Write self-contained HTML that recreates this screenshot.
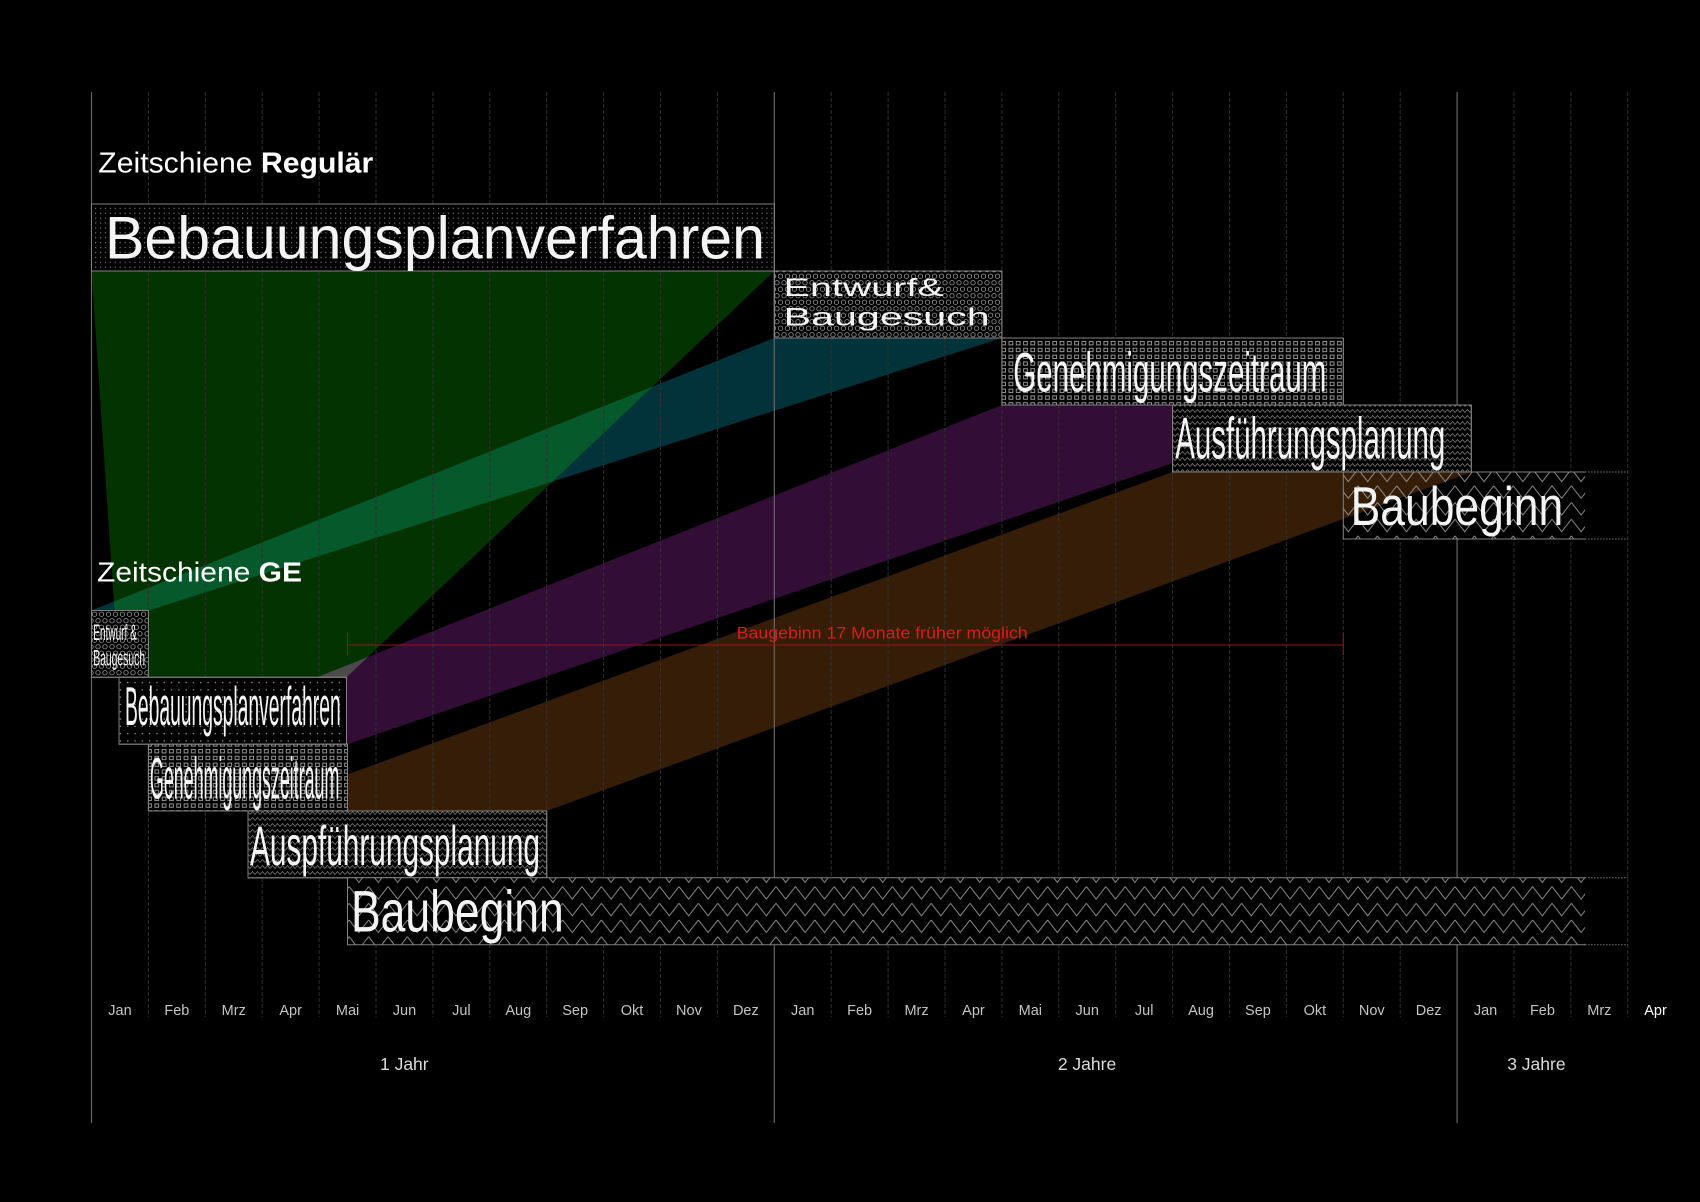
<!DOCTYPE html>
<html><head><meta charset="utf-8"><style>
html,body{margin:0;padding:0;background:#000;}
svg{display:block}
</style></head><body>
<svg width="1700" height="1202" viewBox="0 0 1700 1202" xmlns="http://www.w3.org/2000/svg" font-family="'Liberation Sans', Arial, sans-serif">
<defs>
  <pattern id="pDots" width="4.9" height="4.9" patternUnits="userSpaceOnUse"><rect x="2" y="2" width="1.1" height="1.1" fill="#8c8c8c"/></pattern>
  <pattern id="pDots2" width="7.3" height="7.3" patternUnits="userSpaceOnUse"><rect x="3" y="3" width="1.3" height="1.3" fill="#9a9a9a"/></pattern>
  <pattern id="pCirc" width="14" height="13" patternUnits="userSpaceOnUse">
    <g fill="none" stroke="#9a9a9a" stroke-width="0.8">
      <circle cx="3.5" cy="3.2" r="2.2"/><circle cx="10.5" cy="3.2" r="2.2"/>
      <circle cx="7" cy="9.7" r="2.2"/><circle cx="0" cy="9.7" r="2.2"/><circle cx="14" cy="9.7" r="2.2"/>
    </g>
  </pattern>
  <pattern id="pSq" width="7.3" height="6.8" patternUnits="userSpaceOnUse"><rect x="1.6" y="1.5" width="3.8" height="3.4" fill="none" stroke="#a0a0a0" stroke-width="0.9"/></pattern>
  <pattern id="pZz" width="5" height="6" patternUnits="userSpaceOnUse"><polyline points="0,4.5 2.5,1.5 5,4.5" fill="none" stroke="#8a8a8a" stroke-width="0.7"/></pattern>
  <pattern id="pZZ" width="19.4" height="16.7" patternUnits="userSpaceOnUse"><polyline points="0,1.5 9.7,14 19.4,1.5" fill="none" stroke="#9a9a9a" stroke-width="0.9"/></pattern>
  <clipPath id="cGreen"><polygon points="91.5,271 774.3,271 346.5,677.3 119,677.3"/></clipPath>
  <clipPath id="cBB"><rect x="1343.3" y="472" width="241.8" height="67"/></clipPath>
</defs>

<rect width="1700" height="1202" fill="#000"/>

<!-- connecting bands -->
<polygon points="91.5,271 774.3,271 346.5,677.3 119,677.3" fill="#033300"/>
<polygon points="774.3,338 1001.9,338 148.4,610.5 91.5,610.5" fill="#03333a"/>
<polygon points="774.3,338 1001.9,338 148.4,610.5 91.5,610.5" fill="#05592a" clip-path="url(#cGreen)"/>
<polygon points="1001.9,405 1343.3,405 347.5,744.2 148.4,744.2" fill="#320d36"/>
<polygon points="1001.9,405 1343.3,405 347.5,744.2 148.4,744.2" fill="#4a4a4a" clip-path="url(#cGreen)"/>
<polygon points="1172.6,472 1471.3,472 546.7,811 248,811" fill="#361d07"/>

<!-- month gridlines (dashed) -->
<g stroke="#303030" stroke-width="1" stroke-dasharray="4 2">
  <line x1="148.4" y1="92" x2="148.4" y2="1017"/>
  <line x1="205.3" y1="92" x2="205.3" y2="1017"/>
  <line x1="262.2" y1="92" x2="262.2" y2="1017"/>
  <line x1="319.1" y1="92" x2="319.1" y2="1017"/>
  <line x1="376.0" y1="92" x2="376.0" y2="1017"/>
  <line x1="432.9" y1="92" x2="432.9" y2="1017"/>
  <line x1="489.8" y1="92" x2="489.8" y2="1017"/>
  <line x1="546.7" y1="92" x2="546.7" y2="1017"/>
  <line x1="603.6" y1="92" x2="603.6" y2="1017"/>
  <line x1="660.5" y1="92" x2="660.5" y2="1017"/>
  <line x1="717.4" y1="92" x2="717.4" y2="1017"/>
  <line x1="831.2" y1="92" x2="831.2" y2="1017"/>
  <line x1="888.1" y1="92" x2="888.1" y2="1017"/>
  <line x1="945.0" y1="92" x2="945.0" y2="1017"/>
  <line x1="1001.9" y1="92" x2="1001.9" y2="1017"/>
  <line x1="1058.8" y1="92" x2="1058.8" y2="1017"/>
  <line x1="1115.7" y1="92" x2="1115.7" y2="1017"/>
  <line x1="1172.6" y1="92" x2="1172.6" y2="1017"/>
  <line x1="1229.5" y1="92" x2="1229.5" y2="1017"/>
  <line x1="1286.4" y1="92" x2="1286.4" y2="1017"/>
  <line x1="1343.3" y1="92" x2="1343.3" y2="1017"/>
  <line x1="1400.2" y1="92" x2="1400.2" y2="1017"/>
  <line x1="1514.0" y1="92" x2="1514.0" y2="1017"/>
  <line x1="1570.9" y1="92" x2="1570.9" y2="1017"/>
  <line x1="1627.8" y1="92" x2="1627.8" y2="1017"/>
</g>
<!-- year lines -->
<g stroke="#666" stroke-width="1.2">
  <line x1="91.5" y1="92" x2="91.5" y2="1123"/>
  <line x1="774.3" y1="92" x2="774.3" y2="1123"/>
  <line x1="1457.1" y1="92" x2="1457.1" y2="1123"/>
</g>

<!-- red annotation -->
<g stroke="#9a0f1c" stroke-width="1">
  <line x1="347.5" y1="645" x2="1343.3" y2="645"/>
  <line x1="347.5" y1="633" x2="347.5" y2="655"/>
  <line x1="1343.3" y1="633" x2="1343.3" y2="655"/>
</g>
<text x="736.7" y="638.3" font-size="17" fill="#d81c1c" textLength="291" lengthAdjust="spacingAndGlyphs">Baugebinn 17 Monate früher möglich</text>

<!-- Regular boxes -->
<g stroke="#808080" stroke-width="1">
  <rect x="91.5" y="204" width="682.8" height="67" fill="#000"/>
  <rect x="91.5" y="204" width="682.8" height="67" fill="url(#pDots)"/>

  <rect x="774.3" y="271" width="227.6" height="67" fill="#000"/>
  <rect x="774.3" y="271" width="227.6" height="67" fill="url(#pCirc)"/>

  <rect x="1001.9" y="338" width="341.4" height="67" fill="#000"/>
  <rect x="1001.9" y="338" width="341.4" height="67" fill="url(#pSq)"/>

  <rect x="1172.6" y="405" width="298.7" height="67" fill="#000"/>
  <rect x="1172.6" y="405" width="298.7" height="67" fill="url(#pZz)"/>
</g>
<!-- Regular Baubeginn -->
<rect x="1343.3" y="472" width="241.8" height="67" fill="#000"/>
<polygon points="1172.6,472 1471.3,472 546.7,811 248,811" fill="#361d07" clip-path="url(#cBB)"/>
<rect x="1343.3" y="472" width="241.8" height="67" fill="url(#pZZ)"/>
<g stroke="#808080" stroke-width="1" fill="none">
  <polyline points="1585.1,472 1343.3,472 1343.3,539 1585.1,539"/>
</g>
<g stroke="#777" stroke-width="1" stroke-dasharray="1.5 1.5">
  <line x1="1585.1" y1="472" x2="1627.8" y2="472"/>
  <line x1="1585.1" y1="539" x2="1627.8" y2="539"/>
</g>

<!-- GE boxes -->
<g stroke="#808080" stroke-width="1">
  <rect x="91.5" y="610.5" width="56.9" height="66.8" fill="#000"/>
  <rect x="91.5" y="610.5" width="56.9" height="66.8" fill="url(#pCirc)"/>

  <rect x="119" y="677.3" width="227.5" height="66.9" fill="#000"/>
  <rect x="119" y="677.3" width="227.5" height="66.9" fill="url(#pDots2)"/>

  <rect x="148.4" y="744.2" width="199.1" height="66.8" fill="#000"/>
  <rect x="148.4" y="744.2" width="199.1" height="66.8" fill="url(#pSq)"/>

  <rect x="248" y="811" width="298.7" height="66.8" fill="#000"/>
  <rect x="248" y="811" width="298.7" height="66.8" fill="url(#pZz)"/>
</g>
<rect x="347.5" y="877.8" width="1237.6" height="66.9" fill="#000"/>
<rect x="347.5" y="877.8" width="1237.6" height="66.9" fill="url(#pZZ)"/>
<g stroke="#808080" stroke-width="1" fill="none">
  <polyline points="1585.1,877.8 347.5,877.8 347.5,944.7 1585.1,944.7"/>
</g>
<g stroke="#777" stroke-width="1" stroke-dasharray="1.5 1.5">
  <line x1="1585.1" y1="877.8" x2="1627.8" y2="877.8"/>
  <line x1="1585.1" y1="944.7" x2="1627.8" y2="944.7"/>
</g>

<!-- Titles -->
<text x="98.3" y="172.7" font-size="29" fill="#fff" textLength="275" lengthAdjust="spacingAndGlyphs">Zeitschiene <tspan font-weight="bold">Regulär</tspan></text>
<text x="97" y="581.7" font-size="28" fill="#fff" textLength="205" lengthAdjust="spacingAndGlyphs">Zeitschiene <tspan font-weight="bold">GE</tspan></text>

<!-- Regular labels -->
<g fill="#f4f4f4">
  <text x="105" y="258.3" font-size="60" textLength="660" lengthAdjust="spacingAndGlyphs">Bebauungsplanverfahren</text>
  <text x="783.7" y="296" font-size="25" textLength="160" lengthAdjust="spacingAndGlyphs">Entwurf&amp;</text>
  <text x="783.7" y="325.7" font-size="25" textLength="206" lengthAdjust="spacingAndGlyphs">Baugesuch</text>
  <text x="1013.3" y="391.7" font-size="56" textLength="313" lengthAdjust="spacingAndGlyphs">Genehmigungszeitraum</text>
  <text x="1175.3" y="458.3" font-size="58" textLength="270" lengthAdjust="spacingAndGlyphs">Ausführungsplanung</text>
  <text x="1350.6" y="525" font-size="55" textLength="212.6" lengthAdjust="spacingAndGlyphs">Baubeginn</text>
</g>

<!-- GE labels -->
<g fill="#f4f4f4">
  <text x="93.3" y="640" font-size="22" textLength="43.5" lengthAdjust="spacingAndGlyphs">Entwurf &amp;</text>
  <text x="93.3" y="665.5" font-size="22" textLength="51.7" lengthAdjust="spacingAndGlyphs">Baugesuch</text>
  <text x="125" y="725" font-size="55" textLength="215.7" lengthAdjust="spacingAndGlyphs">Bebauungsplanverfahren</text>
  <text x="150" y="798.3" font-size="58" textLength="189.3" lengthAdjust="spacingAndGlyphs">Genehmigungszeitraum</text>
  <text x="250" y="865" font-size="56" textLength="290" lengthAdjust="spacingAndGlyphs">Auspführungsplanung</text>
  <text x="351" y="931.7" font-size="58" textLength="212.8" lengthAdjust="spacingAndGlyphs">Baubeginn</text>
</g>

<!-- Month labels -->
<g font-size="14.5" fill="#c4c4c4" text-anchor="middle">
  <text x="119.95" y="1015">Jan</text>
  <text x="176.85" y="1015">Feb</text>
  <text x="233.75" y="1015">Mrz</text>
  <text x="290.65" y="1015">Apr</text>
  <text x="347.55" y="1015">Mai</text>
  <text x="404.45" y="1015">Jun</text>
  <text x="461.35" y="1015">Jul</text>
  <text x="518.25" y="1015">Aug</text>
  <text x="575.15" y="1015">Sep</text>
  <text x="632.05" y="1015">Okt</text>
  <text x="688.95" y="1015">Nov</text>
  <text x="745.85" y="1015">Dez</text>
  <text x="802.75" y="1015">Jan</text>
  <text x="859.65" y="1015">Feb</text>
  <text x="916.55" y="1015">Mrz</text>
  <text x="973.45" y="1015">Apr</text>
  <text x="1030.35" y="1015">Mai</text>
  <text x="1087.25" y="1015">Jun</text>
  <text x="1144.15" y="1015">Jul</text>
  <text x="1201.05" y="1015">Aug</text>
  <text x="1257.95" y="1015">Sep</text>
  <text x="1314.85" y="1015">Okt</text>
  <text x="1371.75" y="1015">Nov</text>
  <text x="1428.65" y="1015">Dez</text>
  <text x="1485.55" y="1015">Jan</text>
  <text x="1542.45" y="1015">Feb</text>
  <text x="1599.35" y="1015">Mrz</text>
  <text x="1655.5" y="1015" fill="#fff">Apr</text>
</g>

<!-- Year labels -->
<g font-size="17.5" fill="#dcdcdc" text-anchor="middle">
  <text x="404.3" y="1070">1 Jahr</text>
  <text x="1087" y="1070">2 Jahre</text>
  <text x="1536.4" y="1070">3 Jahre</text>
</g>
</svg>
</body></html>
